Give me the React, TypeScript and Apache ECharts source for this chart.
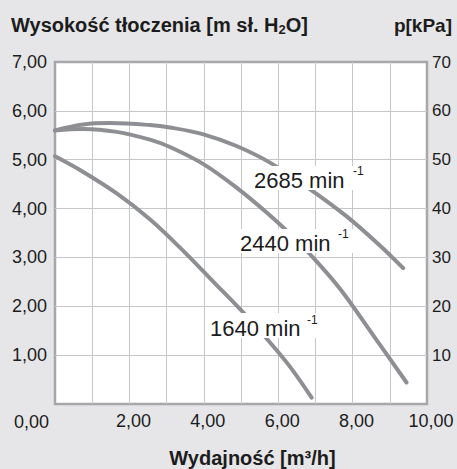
import React, { useEffect, useRef } from "react";
import * as echarts from "echarts";

// Flow (m³/h) / head (m H2O) readings for each speed curve
const rpm2685X = [0, 0.76, 1.48, 2.55, 3.09, 3.99, 4.88, 5.78, 6.85, 7.84, 8.74, 9.36];
const rpm2685Y = [5.6, 5.72, 5.75, 5.71, 5.66, 5.52, 5.28, 4.94, 4.4, 3.84, 3.24, 2.78];

const rpm2440X = [0, 0.76, 1.66, 2.55, 3.09, 3.99, 4.88, 5.69, 6.32, 6.85, 7.66, 8.56, 9.45];
const rpm2440Y = [5.6, 5.63, 5.57, 5.41, 5.26, 4.91, 4.43, 3.92, 3.48, 3.07, 2.36, 1.4, 0.44];

const rpm1640X = [0, 0.76, 1.66, 2.55, 3.36, 4.26, 5.2, 5.78, 6.32, 6.9];
const rpm1640Y = [5.07, 4.75, 4.31, 3.78, 3.2, 2.5, 1.76, 1.26, 0.76, 0.13];

const curveNames = ["2685", "2440", "1640"];

const xTickMin = 0;
const xTickMax = 10;
const yLeftMax = 7;
const yRightMax = 70;

const FONT = "'Liberation Sans', Arial, Helvetica, sans-serif";
const CURVE = "#8e8f92";
const INK = "#1c1c1c";

function pairs(xs: number[], ys: number[]) {
  return xs.map((x, i) => [x, ys[i]]);
}

function comma(v: number, d: number) {
  return v.toFixed(d).replace(".", ",");
}

function speedLabel(name: string, left: number, baseline: number, supLeft: number, supMid: number, boxL: number, boxR: number, boxT: number) {
  return {
    type: "group",
    children: [
      {
        type: "rect",
        shape: { x: boxL, y: boxT, width: boxR - boxL, height: baseline + 2 - boxT },
        style: { fill: "#ffffff" },
        z: 100,
      },
      {
        type: "text",
        x: left,
        y: baseline - 7.7,
        z: 101,
        style: {
          text: name + " min",
          font: `22px ${FONT}`,
          fill: INK,
          align: "left",
          verticalAlign: "middle",
        },
      },
      {
        type: "text",
        x: supLeft,
        y: supMid,
        z: 101,
        style: {
          text: "-1",
          font: `12px ${FONT}`,
          fill: INK,
          align: "left",
          verticalAlign: "middle",
        },
      },
    ],
  };
}

export default function App() {
  const ref = useRef<HTMLDivElement>(null);

  useEffect(() => {
    if (!ref.current) return;
    const chart = echarts.init(ref.current, null, { renderer: "svg" });
    const lineSeries = (data: number[][]) => ({
      type: "line",
      data,
      smooth: 0.35,
      showSymbol: false,
      symbol: "none",
      lineStyle: { color: CURVE, width: 4, cap: "round" },
      z: 5,
    });
    chart.setOption({
      animation: false,
      backgroundColor: "#e6e6e8",
      grid: {
        left: 55,
        right: 30,
        top: 62,
        bottom: 65,
        show: true,
        backgroundColor: "#ffffff",
        borderColor: "#a6a7a9",
        borderWidth: 2.5,
      },
      xAxis: {
        type: "value",
        min: xTickMin,
        max: xTickMax,
        interval: 1,
        axisLine: { show: false },
        axisTick: { show: false },
        splitLine: { show: true, showMinLine: false, showMaxLine: false, lineStyle: { color: "#c6c7c9", width: 1 } },
        axisLabel: {
          margin: 8,
          fontSize: 18,
          fontFamily: FONT,
          color: INK,
          padding: [0, 0, 0, 8],
          showMaxLabel: true,
          formatter: (v: number) => (v !== 0 && v % 2 === 0 ? comma(v, 2) : ""),
        },
      },
      yAxis: [
        {
          type: "value",
          min: 0,
          max: yLeftMax,
          interval: 1,
          axisLine: { show: false },
          axisTick: { show: false },
          splitLine: { show: true, showMinLine: false, showMaxLine: false, lineStyle: { color: "#c6c7c9", width: 1 } },
          axisLabel: {
            margin: 8,
            fontSize: 18,
            fontFamily: FONT,
            color: INK,
            formatter: (v: number) => (v === 0 ? "" : comma(v, 2)),
          },
        },
        {
          type: "value",
          min: 0,
          max: yRightMax,
          interval: 10,
          position: "right",
          axisLine: { show: false },
          axisTick: { show: false },
          splitLine: { show: false },
          axisLabel: {
            margin: 5,
            fontSize: 17,
            fontFamily: FONT,
            color: INK,
            formatter: (v: number) => (v === 0 ? "" : String(v)),
          },
        },
      ],
      series: [
        { name: curveNames[0], ...lineSeries(pairs(rpm2685X, rpm2685Y)) },
        { name: curveNames[1], ...lineSeries(pairs(rpm2440X, rpm2440Y)) },
        { name: curveNames[2], ...lineSeries(pairs(rpm1640X, rpm1640Y)) },
      ],
      graphic: [
        {
          type: "text",
          x: 11,
          y: 25,
          style: {
            text: "{a|Wysokość tłoczenia [m sł. H}{b|2}{a|O]}",
            verticalAlign: "middle",
            rich: {
              a: { font: `bold 20px ${FONT}`, fill: INK, lineHeight: 22, verticalAlign: "middle" },
              b: { font: `bold 13px ${FONT}`, fill: INK, lineHeight: 11, verticalAlign: "bottom" },
            },
          },
        },
        {
          type: "text",
          x: 452,
          y: 25,
          style: {
            text: "p[kPa]",
            font: `bold 19px ${FONT}`,
            fill: INK,
            align: "right",
            verticalAlign: "middle",
          },
        },
        {
          type: "text",
          left: 14,
          top: 413,
          style: {
            text: comma(xTickMin, 2),
            font: `18px ${FONT}`,
            fill: INK,
          },
        },
        {
          type: "text",
          x: 252.5,
          y: 458,
          style: {
            text: "Wydajność [m³/h]",
            font: `bold 20px ${FONT}`,
            fill: INK,
            align: "center",
            verticalAlign: "middle",
          },
        },
        speedLabel(curveNames[0], 254, 188, 353, 170.5, 251, 367, 166),
        speedLabel(curveNames[1], 240, 251, 338, 234, 237, 353, 229),
        speedLabel(curveNames[2], 210, 336, 307, 319.5, 207, 322, 313),
      ],
    });
    return () => chart.dispose();
  }, []);

  return <div ref={ref} style={{ width: 457, height: 469, position: "absolute", left: 0, top: 0 }} />;
}
